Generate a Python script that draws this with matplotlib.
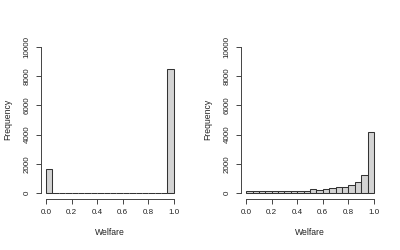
import numpy as np
import matplotlib.pyplot as plt

# ---- data: histogram counts, 20 bins of width 0.05 over [0, 1] ----
bin_edges = np.linspace(0, 1, 21)
counts_left = [1630, 0, 0, 0, 0, 0, 0, 0, 0, 0,
               0, 0, 0, 0, 0, 0, 0, 0, 0, 8440]
counts_right = [160, 160, 180, 180, 160, 160, 180, 160, 180, 180,
                250, 200, 290, 340, 390, 410, 545, 750, 1250, 4200]
x_ticks = [0.0, 0.2, 0.4, 0.6, 0.8, 1.0]
y_ticks = [0, 2000, 4000, 6000, 8000, 10000]

plt.rcParams['font.family'] = ['Liberation Sans', 'DejaVu Sans']
TXT = "#222222"

fig = plt.figure(figsize=(4, 2.5), dpi=100)


def r_hist(ax, counts):
    ax.bar(bin_edges[:-1], counts, width=0.05, align="edge",
           color="#d3d3d3", edgecolor="#333333", linewidth=0.75)
    ax.set_xlim(-0.04, 1.04)
    ax.set_ylim(-400, 10400)
    for s in ("top", "right"):
        ax.spines[s].set_visible(False)
    ax.spines["left"].set_bounds(0, 10000)
    ax.spines["bottom"].set_bounds(0, 1)
    for s in ("left", "bottom"):
        ax.spines[s].set_linewidth(0.7)
        ax.spines[s].set_color("#444444")
    ax.set_xticks(x_ticks)
    ax.set_xticklabels([f"{v:.1f}" for v in x_ticks])
    ax.set_yticks(y_ticks)
    ax.set_yticklabels([str(v) for v in y_ticks], rotation=90, va="center")
    ax.tick_params(length=3.5, width=0.7, color="#444444",
                   labelsize=5.8, labelcolor=TXT, pad=4)
    ax.set_xlabel("Welfare", fontsize=6.2, color=TXT, labelpad=8)
    ax.set_ylabel("Frequency", fontsize=6.2, color=TXT, labelpad=8)


ax1 = fig.add_axes([0.1025, 0.204, 0.345, 0.633])
r_hist(ax1, counts_left)
ax2 = fig.add_axes([0.6025, 0.204, 0.345, 0.633])
r_hist(ax2, counts_right)

fig.savefig("out.png", dpi=100)
